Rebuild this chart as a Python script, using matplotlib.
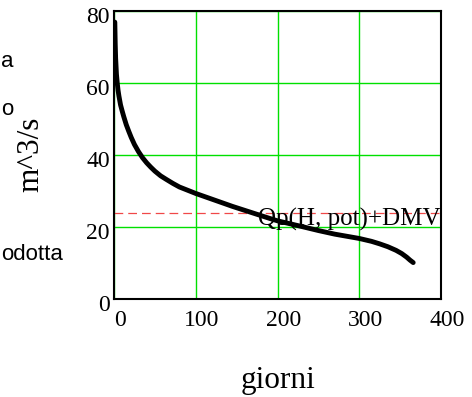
import matplotlib
matplotlib.use("Agg")
import matplotlib.pyplot as plt
import matplotlib.transforms as mtransforms

# Flow-duration curve (days vs discharge m^3/s)
days = [1, 1.5, 2, 3, 4, 5, 6, 8, 10, 12, 15, 18, 21, 25, 30, 35, 40, 45, 50, 57,
        64, 72, 80, 90, 100, 115, 130, 145, 160, 175, 190, 200, 215, 230, 250,
        270, 285, 300, 315, 325, 335, 345, 352, 358, 362, 366]
flow = [77, 71, 67, 62.5, 60, 58, 56.5, 54, 52.3, 50.7, 48.5, 46.7, 45, 43, 41, 39.3,
        37.9, 36.7, 35.6, 34.3, 33.3, 32.2, 31.2, 30.3, 29.4, 28.2, 27.0, 25.8,
        24.7, 23.6, 22.5, 21.8, 21.0, 20.2, 19.1, 18.1, 17.5, 16.9, 16.1, 15.4,
        14.6, 13.6, 12.7, 11.7, 10.9, 10.2]

threshold = 24.0
threshold_label = "Qp(H, pot)+DMV"

x_ticks = [0, 100, 200, 300, 400]
y_ticks = [0, 20, 40, 60, 80]
x_label = "giorni"
y_label = "m^3/s"
left_fragments = ["a", "o", "odotta"]

W, H, DPI = 472, 397, 100
fig = plt.figure(figsize=(W / DPI, H / DPI), dpi=DPI)
ax = fig.add_axes([114 / W, 1 - 299.3 / H, 327 / W, 288 / H])

serif = ["Liberation Serif", "DejaVu Serif"]
sans = ["Liberation Sans", "DejaVu Sans"]

ax.set_xlim(0, 400)
ax.set_ylim(0, 80)
ax.set_xticks(x_ticks)
ax.set_yticks(y_ticks)
ax.set_xticklabels([str(t) for t in x_ticks], family=serif, fontsize=17)
ax.set_yticklabels([str(t) for t in y_ticks], family=serif, fontsize=17)
ax.tick_params(length=0)
ax.tick_params(axis="x", pad=8)
ax.tick_params(axis="y", pad=3)

for lab in ax.get_xticklabels():
    lab.set_transform(lab.get_transform() + mtransforms.ScaledTranslation(6 / DPI, 0, fig.dpi_scale_trans))
for lab in ax.get_yticklabels():
    lab.set_transform(lab.get_transform() + mtransforms.ScaledTranslation(0, -4 / DPI, fig.dpi_scale_trans))

ax.grid(True, color="#00e000", linewidth=1.0)
ax.set_axisbelow(True)
for s in ax.spines.values():
    s.set_linewidth(1.5)
    s.set_color("black")

ax.axhline(threshold, color="#f04848", linewidth=0.9, dashes=(7, 4))
ax.plot(days, flow, color="black", linewidth=3.5, solid_capstyle="round",
        solid_joinstyle="round")

ax.text(399, 20.6, threshold_label, ha="right", va="baseline",
        family=serif, fontsize=18)

fig.text(38 / W, 1 - 154 / H, y_label, rotation=90, rotation_mode="anchor",
         ha="center", va="baseline", family=serif, fontsize=22.5)
fig.text(278 / W, 1 - 388 / H, x_label, ha="center", va="baseline",
         family=serif, fontsize=22.5)

fig.text(1 / W, 1 - 67 / H, left_fragments[0], ha="left", va="baseline", family=sans, fontsize=16)
fig.text(1 / W, 1 - 115 / H, left_fragments[1], ha="left", va="baseline", family=sans, fontsize=16)
fig.text(1 / W, 1 - 260 / H, left_fragments[2], ha="left", va="baseline", family=sans, fontsize=16)

fig.savefig("out.png", dpi=DPI)
